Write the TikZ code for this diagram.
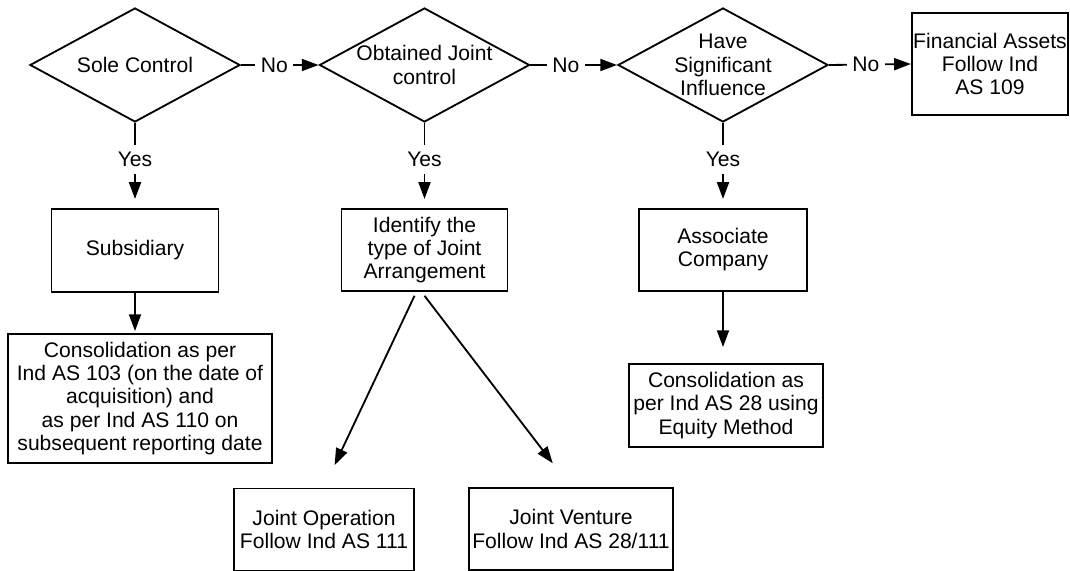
\documentclass[tikz,border=0pt]{standalone}
\usepackage{fontspec}
\setmainfont{Liberation Sans}
\usetikzlibrary{arrows.meta,positioning,calc,shapes.geometric}

\begin{document}
\begin{tikzpicture}[
  x=0.025cm, y=-0.025cm,
  font=\fontsize{15}{16.5}\selectfont,
  test/.style={draw, diamond, line width=1.3pt, aspect=1.84, inner sep=0pt,
               minimum width=5.25cm, minimum height=2.85cm, align=center},
  box/.style={draw, line width=1.3pt, inner sep=1pt, align=center},
  arr/.style={line width=1.3pt, -{Triangle[length=0.42cm, width=0.3cm]}},
  lbl/.style={fill=white, inner xsep=4pt, inner ysep=5pt},
  node distance=2.125cm
]
\useasboundingbox (0,0) rectangle (1070,571);

% Decisions
\node[test] (d1) at (135,65) {Sole Control};
\node[test] (d2) at (424.5,65) {Obtained Joint\\control};
\node[test] (d3) at (723,65) {Have\\Significant\\Influence};
\node[box, minimum width=3.9cm, minimum height=2.55cm] (fin) at (990,64)
  {Financial Assets\\Follow Ind\\AS 109};

% Sole control
\node[box, minimum width=4.175cm, minimum height=2.075cm, below=of d1] (sub) {Subsidiary};
\node[box, minimum width=6.6cm, minimum height=3.225cm] (cons1) at (140,398.5)
  {Consolidation as per\\Ind AS 103 (on the date of\\acquisition) and\\as per Ind AS 110 on\\subsequent reporting date};

% Joint control
\node[box, minimum width=4.15cm, minimum height=2.05cm, below=of d2] (ident)
  {Identify the\\type of Joint\\Arrangement};
\node[box, minimum width=4.5cm, minimum height=2.05cm] (jop) at (324,529.5)
  {Joint Operation\\Follow Ind AS 111};
\node[box, minimum width=5.1cm, minimum height=2.05cm] (jv) at (571,529)
  {Joint Venture\\Follow Ind AS 28/111};

% Significant influence
\node[box, minimum width=4.2cm, minimum height=2.05cm, below=of d3] (assoc)
  {Associate\\Company};
\node[box, minimum width=4.85cm, minimum height=2.075cm] (cons2) at (726,405.5)
  {Consolidation as\\per Ind AS 28 using\\Equity Method};

% No branches
\draw[arr] (d1.east) -- node[lbl, pos=0.43] {No} (d2.west);
\draw[arr] (d2.east) -- node[lbl, pos=0.41] {No} (d3.west);
\draw[arr] (d3.east) -- node[lbl, pos=0.45] {No} (fin.west);

% Yes branches
\draw[arr, shorten >=0.225cm] (d1.south) -- node[lbl, pos=0.43] {Yes} (sub.north);
\draw[arr, shorten >=0.225cm] (d2.south) -- node[lbl, pos=0.43] {Yes} (ident.north);
\draw[arr, shorten >=0.225cm] (d3.south) -- node[lbl, pos=0.43] {Yes} (assoc.north);

\draw[arr, shorten >=0.05cm] (sub.south) -- (sub.south |- cons1.north);
\draw[arr, shorten >=0.4cm] (assoc.south) -- (assoc.south |- cons2.north);
\draw[arr, shorten >=0.62cm] ($(ident.south)+(-10,4)$) -- (jop.north);
\draw[arr, shorten >=0.75cm] ($(ident.south)+(0,4)$) -- (jv.north);

\end{tikzpicture}
\end{document}
